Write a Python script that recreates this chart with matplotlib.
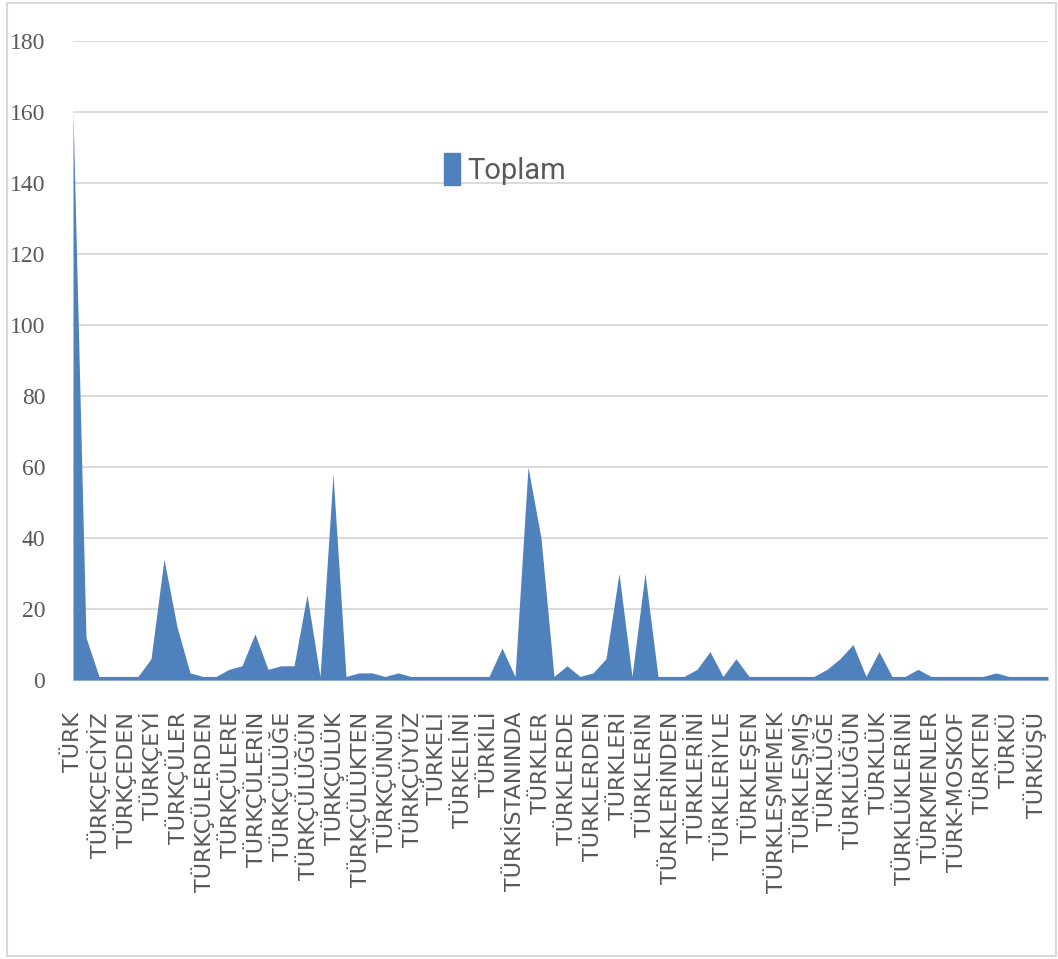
import numpy as np
import matplotlib
matplotlib.use("Agg")
import matplotlib.pyplot as plt
from matplotlib.patches import Patch, Rectangle

# every other category is labelled on the axis; these are the visible labels
shown_labels = [
    "TÜRK", "TÜRKÇECİYİZ", "TÜRKÇEDEN", "TÜRKÇEYİ", "TÜRKÇÜLER", "TÜRKÇÜLERDEN",
    "TÜRKÇÜLERE", "TÜRKÇÜLERİN", "TÜRKÇÜLÜĞE", "TÜRKÇÜLÜĞÜN", "TÜRKÇÜLÜK",
    "TÜRKÇÜLÜKTEN", "TÜRKÇÜNÜN", "TÜRKÇÜYÜZ", "TÜRKELİ", "TÜRKELİNİ", "TÜRKİLİ",
    "TÜRKİSTANINDA", "TÜRKLER", "TÜRKLERDE", "TÜRKLERDEN", "TÜRKLERİ", "TÜRKLERİN",
    "TÜRKLERİNDEN", "TÜRKLERİNİ", "TÜRKLERİYLE", "TÜRKLEŞEN", "TÜRKLEŞMEMEK",
    "TÜRKLEŞMİŞ", "TÜRKLÜĞE", "TÜRKLÜĞÜN", "TÜRKLÜK", "TÜRKLÜKLERİNİ", "TÜRKMENLER",
    "TÜRK-MOSKOF", "TÜRKTEN", "TÜRKÜ", "TÜRKÜŞÜ",
]

# Toplam per category (76 categories)
toplam = [
    160, 12, 1, 1, 1, 1, 6, 34, 15, 2,
    1, 1, 3, 4, 13, 3, 4, 4, 24, 1,
    58, 1, 2, 2, 1, 2, 1, 1, 1, 1,
    1, 1, 1, 9, 1, 60, 40, 1, 4, 1,
    2, 6, 30, 1, 30, 1, 1, 1, 3, 8,
    1, 6, 1, 1, 1, 1, 1, 1, 3, 6,
    10, 1, 8, 1, 1, 3, 1, 1, 1, 1,
    1, 2, 1, 1, 1, 1,
]

BLUE = "#4F81BD"
GRID = "#D9D9D9"
TXT = "#595959"

fig = plt.figure(figsize=(10.58, 9.59), dpi=100)
fig.patches.append(Rectangle((7 / 1058, 3 / 959), 1049 / 1058, 953 / 959,
                             transform=fig.transFigure, fill=False,
                             edgecolor=GRID, linewidth=1.5))
ax = fig.add_axes([73 / 1058, 1 - 680 / 959, 975 / 1058, 639 / 959])

x = np.arange(len(toplam))
ax.fill_between(x, toplam, 0, color=BLUE, linewidth=0, zorder=3)

ax.set_xlim(0, len(toplam) - 1)
ax.set_ylim(0, 180)
ax.set_yticks(np.arange(0, 181, 20))
ax.yaxis.grid(True, color=GRID, linewidth=1.3, zorder=0)
for s in ("top", "right", "left"):
    ax.spines[s].set_visible(False)
ax.spines["bottom"].set_color(GRID)

ax.set_xticks(x[::2])
ax.set_xticklabels(shown_labels, rotation=90, family="DejaVu Sans",
                   fontsize=16, color=TXT)
for t in ax.get_yticklabels():
    t.set_family("Liberation Serif")
    t.set_fontsize(17)
    t.set_color(TXT)
ax.tick_params(axis="x", length=0, pad=23)
ax.tick_params(axis="y", length=0, pad=20)

ax.legend(handles=[Patch(color=BLUE, label="Toplam")], loc="center",
          bbox_to_anchor=(0.443, 0.80), frameon=False,
          prop={"family": "Roboto", "size": 21},
          handlelength=0.55, handleheight=1.3, handletextpad=0.25,
          labelcolor=TXT)

fig.savefig("out.png", dpi=100)
